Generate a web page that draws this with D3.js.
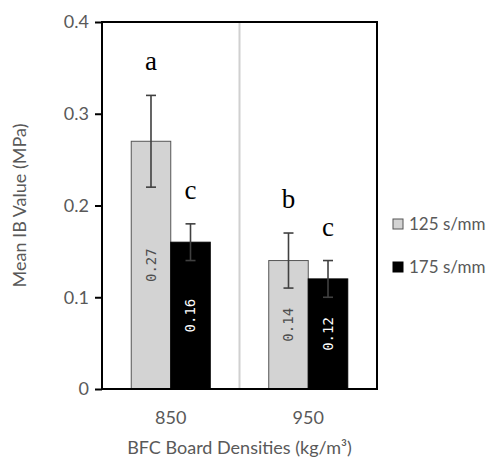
<!DOCTYPE html>
<html>
<head>
<meta charset="utf-8">
<script src="https://cdn.jsdelivr.net/npm/d3@7"></script>
<style>
  body { margin: 0; background: #fff; }
  svg { display: block; }
</style>
</head>
<body>
<svg id="chart"></svg>
<script>
// Data
const densities = ['850', '950'];
const speeds = ['125 s/mm', '175 s/mm'];
const means = [[0.27, 0.16], [0.14, 0.12]];   // [density][speed]
const errors = [[0.05, 0.02], [0.03, 0.02]];
const letters = [['a', 'c'], ['b', 'c']];
const yTicks = [0, 0.1, 0.2, 0.3, 0.4];

const width = 494, height = 462;
const margin = { top: 22, right: 117, bottom: 73, left: 102 };
const innerWidth = width - margin.left - margin.right;
const innerHeight = height - margin.top - margin.bottom;

const fills = ['#d3d3d3', '#000000'];
const textGrey = '#595959';
const sans = 'Lato, "Open Sans", sans-serif';

const svg = d3.select('#chart')
  .attr('width', width)
  .attr('height', height)
  .attr('viewBox', `0 0 ${width} ${height}`);

const g = svg.append('g').attr('transform', `translate(${margin.left}, ${margin.top})`);

const x0 = d3.scaleBand().domain(densities).range([0, innerWidth]);
const x1 = d3.scaleBand().domain(speeds).range([0, x0.bandwidth()]).paddingOuter(0.74);
const y = d3.scaleLinear().domain([0, 0.4]).range([innerHeight, 0]);

const rows = [];
densities.forEach((d, i) => speeds.forEach((s, j) => {
  rows.push({ density: d, speed: s, j, mean: means[i][j], err: errors[i][j], letter: letters[i][j] });
}));

// Divider between categories
g.append('line')
  .attr('x1', x0('950')).attr('x2', x0('950'))
  .attr('y1', 0).attr('y2', innerHeight)
  .attr('stroke', '#d0d0d0')
  .attr('stroke-width', 2);

// Bars
const bx = d => x0(d.density) + x1(d.speed);
g.selectAll('rect.bar')
  .data(rows)
  .join('rect')
  .attr('class', 'bar')
  .attr('x', bx)
  .attr('y', d => y(d.mean))
  .attr('width', x1.bandwidth())
  .attr('height', d => innerHeight - y(d.mean))
  .attr('fill', d => fills[d.j])
  .attr('stroke', d => d.j === 0 ? '#555' : '#000')
  .attr('stroke-width', 1);

// Value labels inside bars
g.selectAll('text.val')
  .data(rows)
  .join('text')
  .attr('class', 'val')
  .attr('transform', d => `translate(${bx(d) + x1.bandwidth() / 2}, ${y(d.mean / 2)}) rotate(-90)`)
  .attr('text-anchor', 'middle')
  .attr('dy', '0.35em')
  .attr('font-family', '"DejaVu Sans Mono", monospace')
  .attr('font-size', '14px')
  .attr('fill', d => d.j === 0 ? '#4d4d4d' : '#fff')
  .text(d => d.mean.toFixed(2));

// Error bars
const eb = g.selectAll('g.err').data(rows).join('g').attr('class', 'err')
  .attr('stroke', '#404040').attr('stroke-width', 1.6);
const cx = d => bx(d) + x1.bandwidth() / 2;
eb.append('line')
  .attr('x1', cx).attr('x2', cx)
  .attr('y1', d => y(d.mean - d.err)).attr('y2', d => y(d.mean + d.err));
eb.append('line')
  .attr('x1', d => cx(d) - 5).attr('x2', d => cx(d) + 5)
  .attr('y1', d => y(d.mean + d.err)).attr('y2', d => y(d.mean + d.err));
eb.append('line')
  .attr('x1', d => cx(d) - 5).attr('x2', d => cx(d) + 5)
  .attr('y1', d => y(d.mean - d.err)).attr('y2', d => y(d.mean - d.err));

// Significance letters
g.selectAll('text.letter')
  .data(rows)
  .join('text')
  .attr('class', 'letter')
  .attr('x', cx)
  .attr('y', d => y(d.mean + d.err) - 25)
  .attr('text-anchor', 'middle')
  .attr('font-family', '"Liberation Serif", "Times New Roman", serif')
  .attr('font-size', '27px')
  .attr('fill', '#000')
  .text(d => d.letter);

// Y axis
const yAxis = g.append('g')
  .call(d3.axisLeft(y).tickValues(yTicks).tickSize(7).tickPadding(6)
    .tickFormat(d => d === 0 ? '0' : String(d)));
yAxis.select('.domain').remove();
yAxis.selectAll('.tick line').attr('stroke', '#000').attr('stroke-width', 2);
yAxis.selectAll('.tick text')
  .attr('font-family', sans).attr('font-size', '18px').attr('fill', textGrey);

// Frame
g.append('rect')
  .attr('x', 0).attr('y', 0)
  .attr('width', innerWidth).attr('height', innerHeight)
  .attr('fill', 'none')
  .attr('stroke', '#000')
  .attr('stroke-width', 2);

// X axis labels
const xAxis = g.append('g')
  .attr('transform', `translate(0, ${innerHeight})`)
  .call(d3.axisBottom(x0).tickSize(0).tickPadding(22));
xAxis.select('.domain').remove();
xAxis.selectAll('.tick text')
  .attr('font-family', sans).attr('font-size', '18px').attr('fill', textGrey);

// Axis titles
g.append('text')
  .attr('x', innerWidth / 2)
  .attr('y', innerHeight + 65)
  .attr('text-anchor', 'middle')
  .attr('font-family', sans)
  .attr('font-size', '18px')
  .attr('fill', textGrey)
  .text('BFC Board Densities (kg/m³)');

g.append('text')
  .attr('transform', 'rotate(-90)')
  .attr('x', -innerHeight / 2)
  .attr('y', -76)
  .attr('text-anchor', 'middle')
  .attr('font-family', sans)
  .attr('font-size', '18px')
  .attr('fill', textGrey)
  .text('Mean IB Value (MPa)');

// Legend
const legend = svg.append('g').attr('transform', 'translate(393, 219)');
const item = legend.selectAll('g').data(speeds).join('g')
  .attr('transform', (d, i) => `translate(0, ${i * 43})`);
item.append('rect')
  .attr('width', 10).attr('height', 10)
  .attr('fill', (d, i) => fills[i])
  .attr('stroke', (d, i) => i === 0 ? '#555' : '#000')
  .attr('stroke-width', 1);
item.append('text')
  .attr('x', 16).attr('y', 5)
  .attr('dy', '0.35em')
  .attr('font-family', sans)
  .attr('font-size', '17px')
  .attr('fill', textGrey)
  .text(d => d);
</script>
</body>
</html>
